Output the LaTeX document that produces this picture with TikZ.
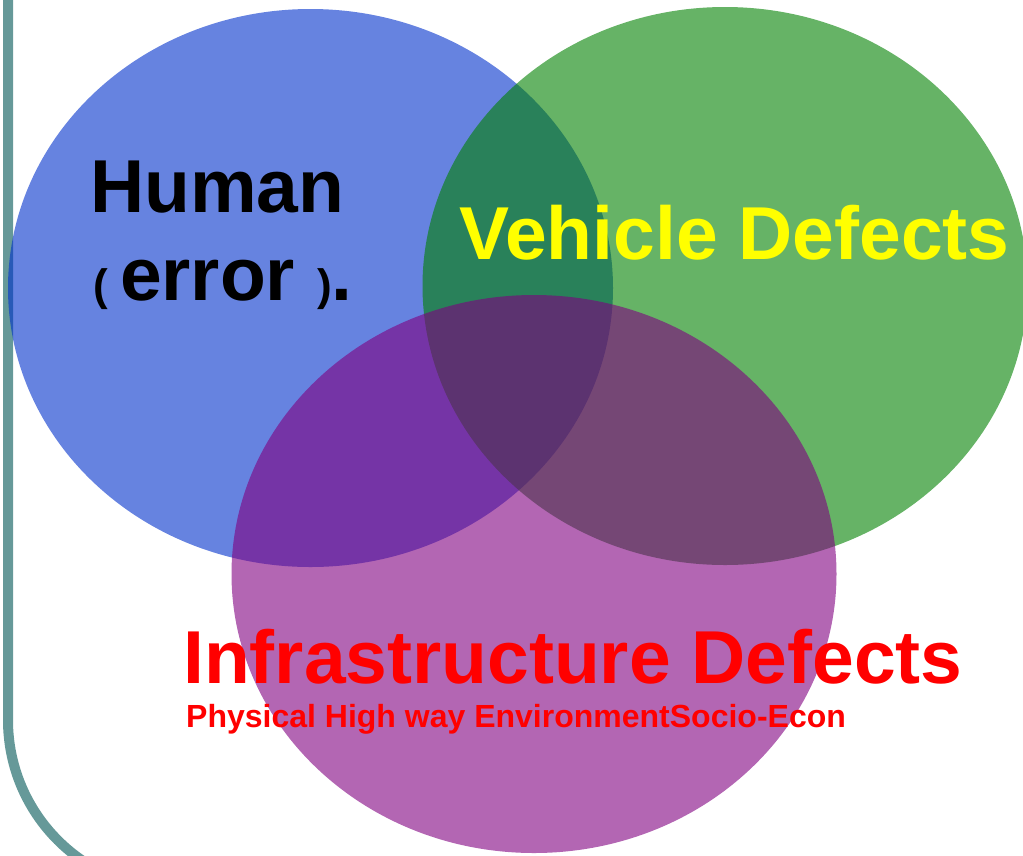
\documentclass[tikz,border=0pt]{standalone}
\usepackage{fontspec}
\setmainfont{Liberation Sans}
\usetikzlibrary{shapes.geometric}

\definecolor{frameteal}{RGB}{102,153,153}
\definecolor{setblue}{RGB}{0,48,204}
\definecolor{setgreen}{RGB}{0,128,0}
\definecolor{setpurple}{RGB}{128,0,128}
\definecolor{txtyellow}{RGB}{255,255,0}
\definecolor{txtred}{RGB}{255,0,0}

\tikzset{
  vennset/.style={ellipse, draw=none, fill opacity=0.6, inner sep=0pt, outer sep=0pt,
    minimum width=605pt, minimum height=558pt},
  biglabel/.style={anchor=base west, inner sep=0pt, font=\bfseries\fontsize{75}{80}\selectfont},
  smalllabel/.style={anchor=base west, inner sep=0pt, font=\bfseries\fontsize{32}{36}\selectfont},
}

\begin{document}
\begin{tikzpicture}[x=1pt,y=-1pt]
  \useasboundingbox (0,0) rectangle (1023,855);
  \clip (0,0) rectangle (1023,855);

  % slide frame edge with its rounded lower corner
  \coordinate (frametop) at (8,-20);
  \coordinate (framecorner) at (8,720);
  \draw[frameteal, line width=10pt] (frametop) -- (framecorner)
    arc[start angle=180, end angle=90, radius=170] -- ++(200,0);

  % the three overlapping sets
  \node[vennset, fill=setblue]   (human)   at (310.5,288) {};
  \node[vennset, fill=setgreen]  (vehicle) at (725,286)   {};
  \node[vennset, fill=setpurple] (infra)   at (534,574)   {};

  % labels
  \node[biglabel, text=black] (humanlbl) at (90,212) {Human};
  \node[biglabel, text=black] (errorlbl) at (93,300)
    {{\fontsize{44}{44}\selectfont(\ }error\hspace{22pt}{\fontsize{44}{44}\selectfont)}.};
  \node[biglabel, text=txtyellow] (vehiclelbl) at (459,259) {Vehicle Defects};
  \node[biglabel, text=txtred] (infralbl) at (183,683) {Infrastructure Defects};
  \node[smalllabel, text=txtred] (infrasub) at (186,727) {Physical High way EnvironmentSocio-Econ};
\end{tikzpicture}
\end{document}
